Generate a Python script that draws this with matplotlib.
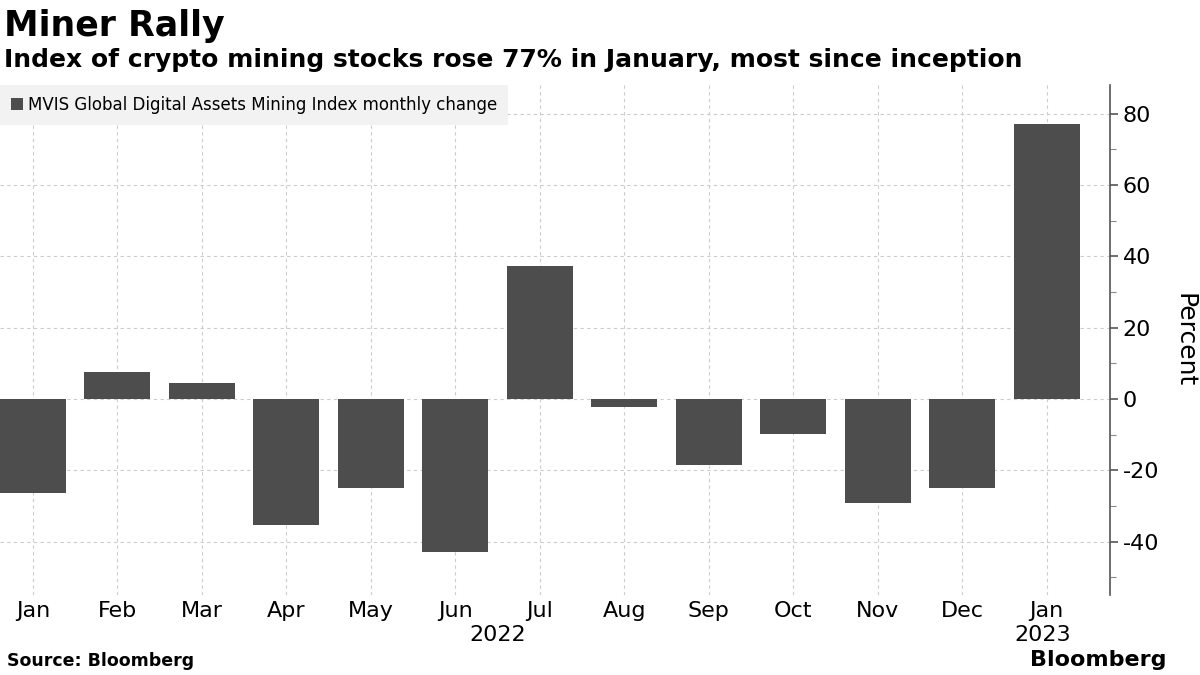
import numpy as np
import matplotlib.pyplot as plt
from matplotlib.ticker import MultipleLocator

months = ['Jan', 'Feb', 'Mar', 'Apr', 'May', 'Jun', 'Jul', 'Aug', 'Sep', 'Oct', 'Nov', 'Dec', 'Jan']
changes = [-26.4, 7.4, 4.5, -35.3, -25.0, -42.9, 37.2, -2.3, -18.6, -9.8, -29.2, -24.9, 77.2]
years = ['2022', '2023']
series_name = 'MVIS Global Digital Assets Mining Index monthly change'

plt.rcParams['font.family'] = ['DejaVu Sans']
plt.rcParams['axes.unicode_minus'] = False
bar_color = '#4d4d4d'

fig = plt.figure(figsize=(12, 6.75), dpi=100)
ax = fig.add_axes([0.0, 0.1185, 0.925, 0.7555])

x = np.arange(len(months))
ax.bar(x, changes, width=0.78, color=bar_color, zorder=3, label=series_name)

ax.set_xlim(-0.39, 12.75)
ax.set_ylim(-55, 88)

# y axis on the right
ax.yaxis.tick_right()
ax.yaxis.set_label_position('right')
ax.yaxis.set_major_locator(MultipleLocator(20))
ax.yaxis.set_minor_locator(MultipleLocator(10))
ax.tick_params(axis='y', which='major', direction='out', length=6, width=1.2,
               color='#555555', labelsize=16, pad=3)
ax.tick_params(axis='y', which='minor', direction='out', length=4, width=0.8, color='#888888')
ax.set_ylabel('Percent', fontsize=18, rotation=270, labelpad=27)

ax.set_xticks(x)
ax.set_xticklabels(months, fontsize=16)
ax.tick_params(axis='x', length=0, pad=4)

for s in ['top', 'left', 'bottom']:
    ax.spines[s].set_visible(False)
ax.spines['right'].set_color('#555555')
ax.spines['right'].set_linewidth(1.2)

ax.grid(True, which='major', color='#cccccc', linestyle=(0, (3, 3)), linewidth=0.8, zorder=0)

# year labels under months
ax.text(5.5, -0.058, years[0], transform=ax.get_xaxis_transform(), ha='center', va='top', fontsize=16)
ax.text(11.95, -0.058, years[1], transform=ax.get_xaxis_transform(), ha='center', va='top', fontsize=16)

leg = ax.legend(loc='upper left', bbox_to_anchor=(0.0, 1.0), frameon=True, fancybox=False,
                fontsize=12, handlelength=0.7, handleheight=0.7, handletextpad=0.3,
                borderaxespad=0.0, borderpad=0.65)
leg.get_frame().set_facecolor('#f2f2f2')
leg.get_frame().set_edgecolor('none')
leg.get_frame().set_alpha(1)

fig.text(0.003, 0.962, 'Miner Rally', fontsize=25, fontweight='bold', va='center')
fig.text(0.003, 0.911, 'Index of crypto mining stocks rose 77% in January, most since inception',
         fontsize=18, fontweight='bold', va='center')
fig.text(0.006, 0.008, 'Source: Bloomberg', fontsize=12.5, fontweight='bold', va='bottom')
fig.text(0.972, 0.008, 'Bloomberg', fontsize=16, fontweight='bold', ha='right', va='bottom')

fig.savefig('out.png', dpi=100)
